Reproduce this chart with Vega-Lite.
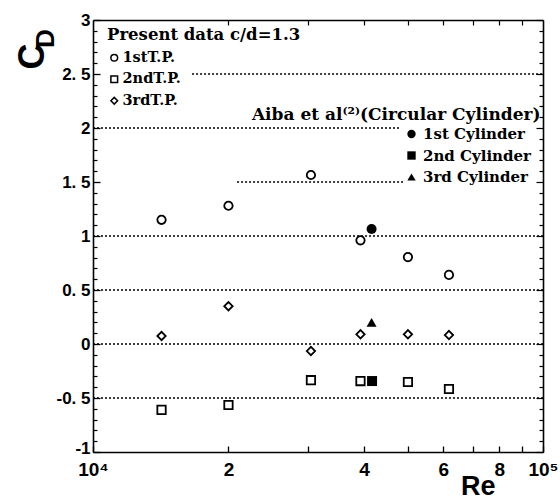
{
  "$schema": "https://vega.github.io/schema/vega-lite/v6.json",
  "width": 450,
  "height": 432,
  "autosize": {"type": "none"},
  "padding": {"left": 93, "top": 20, "right": 17, "bottom": 47},
  "background": "white",
  "config": {
    "view": {"stroke": null},
    "axis": {"grid": false, "domainColor": "black", "tickColor": "black", "labelColor": "black", "titleColor": "black"}
  },
  "datasets": {
    "lines": [
      {"cd": 2.5, "re_from": 16600, "re_to": 100000},
      {"cd": 2.0, "re_from": 10000, "re_to": 48100},
      {"cd": 1.5, "re_from": 20900, "re_to": 48900},
      {"cd": 1.0, "re_from": 10000, "re_to": 100000},
      {"cd": 0.5, "re_from": 10000, "re_to": 100000},
      {"cd": 0.0, "re_from": 10000, "re_to": 100000},
      {"cd": -0.5, "re_from": 10000, "re_to": 100000}
    ],
    "present": [
      {"series": "1stT.P.", "re": 14200, "cd": 1.15},
      {"series": "1stT.P.", "re": 20000, "cd": 1.28},
      {"series": "1stT.P.", "re": 30500, "cd": 1.565},
      {"series": "1stT.P.", "re": 39300, "cd": 0.96},
      {"series": "1stT.P.", "re": 50100, "cd": 0.805},
      {"series": "1stT.P.", "re": 61800, "cd": 0.64},
      {"series": "2ndT.P.", "re": 14200, "cd": -0.61},
      {"series": "2ndT.P.", "re": 20000, "cd": -0.565},
      {"series": "2ndT.P.", "re": 30500, "cd": -0.335},
      {"series": "2ndT.P.", "re": 39300, "cd": -0.343},
      {"series": "2ndT.P.", "re": 50100, "cd": -0.352},
      {"series": "2ndT.P.", "re": 61800, "cd": -0.417},
      {"series": "3rdT.P.", "re": 14200, "cd": 0.074},
      {"series": "3rdT.P.", "re": 20000, "cd": 0.35},
      {"series": "3rdT.P.", "re": 30500, "cd": -0.065},
      {"series": "3rdT.P.", "re": 39300, "cd": 0.09},
      {"series": "3rdT.P.", "re": 50100, "cd": 0.09},
      {"series": "3rdT.P.", "re": 61800, "cd": 0.083}
    ],
    "aiba": [
      {"cyl": "1st Cylinder", "re": 41600, "cd": 1.065},
      {"cyl": "2nd Cylinder", "re": 41700, "cd": -0.343},
      {"cyl": "3rd Cylinder", "re": 41600, "cd": 0.2}
    ],
    "notes": [
      {"note": "Aiba et al⁽²⁾(Circular Cylinder)", "re": 22550, "cd": 2.0}
    ]
  },
  "layer": [
    {
      "data": {"name": "lines"},
      "mark": {"type": "rule", "strokeDash": [2, 2], "strokeWidth": 1.6, "color": "black"},
      "encoding": {
        "x": {
          "field": "re_from", "type": "quantitative",
          "scale": {"type": "log", "domain": [10000, 100000], "nice": false},
          "axis": {
            "orient": "bottom",
            "values": [10000, 20000, 30000, 40000, 50000, 60000, 70000, 80000, 90000, 100000],
            "labelExpr": "datum.value == 10000 ? '10⁴' : datum.value == 100000 ? '10⁵' : (datum.value == 20000 || datum.value == 40000 || datum.value == 60000 || datum.value == 80000) ? toString(datum.value / 10000) : ''",
            "labelOverlap": false, "labelFlush": false, "labelBound": false,
            "tickSize": -6, "tickWidth": 1.3, "labelPadding": 14,
            "domainWidth": 1.6,
            "labelFont": "Liberation Sans Narrow, Liberation Sans", "labelFontSize": 19, "labelFontWeight": "bold",
            "title": "Re", "titleFont": "Liberation Sans Narrow, Liberation Sans", "titleFontSize": 27, "titleFontWeight": "bold",
            "titleX": 402, "titleY": 42, "titleAlign": "right", "titleBaseline": "alphabetic", "titleAnchor": null
          }
        },
        "x2": {"field": "re_to"},
        "y": {
          "field": "cd", "type": "quantitative",
          "scale": {"domain": [-1, 3], "nice": false, "zero": false},
          "axis": {
            "orient": "left",
            "values": [-1, -0.5, 0, 0.5, 1, 1.5, 2, 2.5, 3],
            "labelExpr": "replace(toString(datum.value), '.', '. ')",
            "labelOverlap": false, "labelBound": false, "labelFlush": false,
            "labelOffset": {"condition": {"test": "datum.value == -1", "value": -4}, "value": 0},
            "tickSize": -7, "tickWidth": 1.3, "labelPadding": 10,
            "domainWidth": 1.6,
            "labelFont": "Liberation Sans", "labelFontSize": 17, "labelFontWeight": "bold",
            "title": "C", "titleFont": "Liberation Sans Narrow, Liberation Sans", "titleFontSize": 36, "titleFontWeight": "bold",
            "titleX": -50, "titleY": 36, "titleAlign": "center", "titleBaseline": "alphabetic", "titleAngle": -90, "titleAnchor": null
          }
        }
      }
    },
    {
      "data": {"name": "notes"},
      "mark": {"type": "text", "align": "left", "baseline": "alphabetic", "dy": -8, "font": "DejaVu Serif", "fontSize": 17, "fontWeight": "bold", "color": "black"},
      "encoding": {
        "x": {"field": "re", "type": "quantitative", "axis": null},
        "y": {"field": "cd", "type": "quantitative", "axis": null},
        "text": {"field": "note"}
      }
    },
    {
      "data": {"name": "present"},
      "mark": {"type": "point", "filled": false, "color": "black", "strokeWidth": 1.8, "size": 70, "opacity": 1},
      "encoding": {
        "x": {
          "field": "re", "type": "quantitative",
          "axis": {
            "orient": "top",
            "values": [20000, 30000, 40000, 50000, 60000, 70000, 80000, 90000],
            "labels": false, "tickSize": -5, "tickWidth": 1.2, "domainWidth": 1.6, "title": null
          }
        },
        "y": {
          "field": "cd", "type": "quantitative",
          "axis": {
            "orient": "right",
            "values": [-1, -0.9, -0.8, -0.7, -0.6, -0.5, -0.4, -0.3, -0.2, -0.1, 0, 0.1, 0.2, 0.3, 0.4, 0.5, 0.6, 0.7, 0.8, 0.9, 1, 1.1, 1.2, 1.3, 1.4, 1.5, 1.6, 1.7, 1.8, 1.9, 2, 2.1, 2.2, 2.3, 2.4, 2.5, 2.6, 2.7, 2.8, 2.9, 3],
            "labels": false,
            "tickSize": {"condition": {"test": "abs(datum.value * 2 - round(datum.value * 2)) < 0.001", "value": -7}, "value": -4},
            "tickWidth": 1.2, "domainWidth": 1.6, "title": null
          }
        },
        "shape": {
          "field": "series", "type": "nominal",
          "scale": {"domain": ["1stT.P.", "2ndT.P.", "3rdT.P."], "range": ["circle", "square", "diamond"]},
          "legend": {
            "orient": "none", "legendX": 14, "legendY": 7, "padding": 0,
            "title": "Present data c/d=1.3",
            "titleFont": "DejaVu Serif", "titleFontSize": 16.5, "titleFontWeight": "bold", "titleColor": "black",
            "titlePadding": 7, "titleLimit": 500,
            "labelFont": "DejaVu Serif", "labelFontSize": 14.5, "labelFontWeight": "bold", "labelColor": "black", "labelLimit": 300,
            "symbolSize": 45, "symbolStrokeWidth": 1.5, "symbolStrokeColor": "black",
            "symbolOffset": 0, "labelOffset": 1, "rowPadding": 6.5
          }
        }
      }
    },
    {
      "data": {"name": "aiba"},
      "mark": {"type": "point", "filled": true, "color": "black", "size": 100, "opacity": 1},
      "encoding": {
        "x": {"field": "re", "type": "quantitative", "axis": null},
        "y": {
          "field": "cd", "type": "quantitative",
          "axis": {
            "orient": "left",
            "values": [-0.9, -0.8, -0.7, -0.6, -0.4, -0.3, -0.2, -0.1, 0.1, 0.2, 0.3, 0.4, 0.6, 0.7, 0.8, 0.9, 1.1, 1.2, 1.3, 1.4, 1.6, 1.7, 1.8, 1.9, 2.1, 2.2, 2.3, 2.4, 2.6, 2.7, 2.8, 2.9],
            "labels": false, "domain": false,
            "tickSize": -4, "tickWidth": 1.2,
            "title": "D", "titleFont": "Liberation Sans Narrow, Liberation Sans", "titleFontSize": 26, "titleFontWeight": "bold",
            "titleX": -40, "titleY": 18, "titleAlign": "center", "titleBaseline": "alphabetic", "titleAngle": -90, "titleAnchor": null
          }
        },
        "shape": {
          "field": "cyl", "type": "nominal",
          "scale": {"domain": ["1st Cylinder", "2nd Cylinder", "3rd Cylinder"], "range": ["circle", "square", "triangle-up"]},
          "legend": {
            "orient": "none", "legendX": 311, "legendY": 106.5, "padding": 0,
            "title": null,
            "labelFont": "DejaVu Serif", "labelFontSize": 15, "labelFontWeight": "bold", "labelColor": "black", "labelLimit": 300,
            "symbolSize": 70, "symbolStrokeWidth": 0, "symbolFillColor": "black", "symbolStrokeColor": "black",
            "symbolOffset": 0, "labelOffset": 4, "rowPadding": 5.5
          }
        }
      }
    }
  ],
  "resolve": {
    "axis": {"x": "independent", "y": "independent"},
    "scale": {"shape": "independent"},
    "legend": {"shape": "independent"}
  }
}
